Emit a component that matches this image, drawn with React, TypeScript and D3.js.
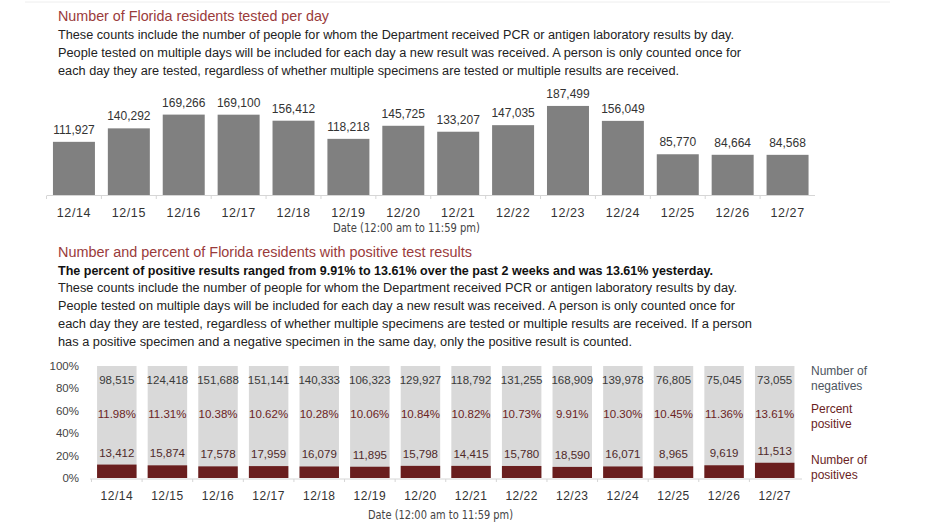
import React from "react";
import * as d3 from "d3";

const dates = ["12/14","12/15","12/16","12/17","12/18","12/19","12/20","12/21","12/22","12/23","12/24","12/25","12/26","12/27"];
const tested = [111927,140292,169266,169100,156412,118218,145725,133207,147035,187499,156049,85770,84664,84568];
const negatives = [98515,124418,151688,151141,140333,106323,129927,118792,131255,168909,139978,76805,75045,73055];
const positives = [13412,15874,17578,17959,16079,11895,15798,14415,15780,18590,16071,8965,9619,11513];
const pctTicks = [0,0.2,0.4,0.6,0.8,1];

const title1 = "Number of Florida residents tested per day";
const para1 = [
  "These counts include the number of people for whom the Department received PCR or antigen laboratory results by day.",
  "People tested on multiple days will be included for each day a new result was received. A person is only counted once for",
  "each day they are tested, regardless of whether multiple specimens are tested or multiple results are received.",
];
const title2 = "Number and percent of Florida residents with positive test results";
const bold2 = "The percent of positive results ranged from 9.91% to 13.61% over the past 2 weeks and was 13.61% yesterday.";
const para2 = [
  "These counts include the number of people for whom the Department received PCR or antigen laboratory results by day.",
  "People tested on multiple days will be included for each day a new result was received. A person is only counted once for",
  "each day they are tested, regardless of whether multiple specimens are tested or multiple results are received. If a person",
  "has a positive specimen and a negative specimen in the same day, only the positive result is counted.",
];
const xTitle = "Date (12:00 am to 11:59 pm)";

const FONT = "'Liberation Sans', Arial, sans-serif";
const NARROW = "'Liberation Sans Narrow', 'DejaVu Sans Condensed', 'Liberation Sans', sans-serif";
const RED_T = "#9a3b3b";
const DARK_RED = "#6a1e1e";

export default function App() {
  const W = 932, H = 524;
  const fmt = d3.format(",");
  const pfmt = d3.format(".2%");

  const x1 = d3.scaleBand<string>().domain(dates).range([46.5, 815]).paddingInner(0.235).paddingOuter(0.1175);
  const y1 = d3.scaleLinear().domain([0, 200000]).range([195, 100]);

  const x2 = d3.scaleBand<string>().domain(dates).range([91.5, 800]).paddingInner(0.22).paddingOuter(0.11);
  const y2 = d3.scaleLinear().domain([0, 1]).range([478, 366]);

  const p1Len = [676, 683, 621];
  const p2Len = [679, 677, 694, 574];

  return (
    <svg width={W} height={H} style={{ position: "absolute", left: 0, top: 0, background: "#fff" }} fontFamily={FONT}>
      <line x1={25} x2={890} y1={2} y2={2} stroke="#eeeeee" />
      <text x={58} y={21} fontSize={14.5} fill={RED_T} textLength={271} lengthAdjust="spacingAndGlyphs">{title1}</text>
      {para1.map((t, i) => (
        <text key={i} x={58} y={38.5 + i * 18} fontSize={12.5} fill="#222" textLength={p1Len[i]} lengthAdjust="spacingAndGlyphs">{t}</text>
      ))}

      {/* Top chart */}
      <line x1={47} x2={815} y1={195.5} y2={195.5} stroke="#d6d6d6" />
      {dates.map((d, i) => (
        <line key={"t" + i} x1={(x1(d) as number) - (x1.step() - x1.bandwidth()) / 2} x2={(x1(d) as number) - (x1.step() - x1.bandwidth()) / 2} y1={195.5} y2={199} stroke="#d6d6d6" />
      ))}
      {dates.map((d, i) => (
        <g key={d}>
          <rect x={x1(d)} y={y1(tested[i])} width={x1.bandwidth()} height={y1(0) - y1(tested[i])} fill="#808080" />
          <text x={(x1(d) as number) + x1.bandwidth() / 2} y={y1(tested[i]) - 8} textAnchor="middle" fontSize={12} fill="#333">{fmt(tested[i])}</text>
          <text x={(x1(d) as number) + x1.bandwidth() / 2} y={216.5} textAnchor="middle" fontSize={12.5} letterSpacing={0.6} fill="#333">{d}</text>
        </g>
      ))}
      <text x={333} y={232} fontSize={12.5} fontFamily={NARROW} fill="#444" textLength={147} lengthAdjust="spacingAndGlyphs">{xTitle}</text>

      {/* Second section text */}
      <text x={58} y={257} fontSize={14} fill={RED_T} textLength={414} lengthAdjust="spacingAndGlyphs">{title2}</text>
      <text x={58} y={274.5} fontSize={12.5} fontWeight="bold" fill="#111" textLength={655} lengthAdjust="spacingAndGlyphs">{bold2}</text>
      {para2.map((t, i) => (
        <text key={i} x={58} y={292 + i * 18} fontSize={12.5} fill="#222" textLength={p2Len[i]} lengthAdjust="spacingAndGlyphs">{t}</text>
      ))}

      {/* Bottom chart */}
      {pctTicks.map((p) => (
        <text key={p} x={79} y={y2(p) + 4} textAnchor="end" fontSize={11.5} fill="#444">{d3.format(".0%")(p)}</text>
      ))}
      <line x1={90} x2={802} y1={479} y2={479} stroke="#d6d6d6" />
      {dates.map((d, i) => (
        <line key={"b" + i} x1={(x2(d) as number) - (x2.step() - x2.bandwidth()) / 2} x2={(x2(d) as number) - (x2.step() - x2.bandwidth()) / 2} y1={479} y2={482} stroke="#d6d6d6" />
      ))}
      {dates.map((d, i) => {
        const tot = negatives[i] + positives[i];
        const p = positives[i] / tot;
        const cx = (x2(d) as number) + x2.bandwidth() / 2;
        return (
          <g key={"bb" + d}>
            <rect x={x2(d)} y={y2(1)} width={x2.bandwidth()} height={y2(0) - y2(1)} fill="#d9d9d9" />
            <rect x={x2(d)} y={y2(p)} width={x2.bandwidth()} height={y2(0) - y2(p)} fill={DARK_RED} />
            <text x={cx} y={383.5} textAnchor="middle" fontSize={11.5} fill="#3a3a3a">{fmt(negatives[i])}</text>
            <text x={cx} y={418} textAnchor="middle" fontSize={11.5} fill="#6b2424">{pfmt(p)}</text>
            <text x={cx} y={y2(p) - 8} textAnchor="middle" fontSize={11.5} fill="#4f2a2a">{fmt(positives[i])}</text>
            <text x={cx} y={499.5} textAnchor="middle" fontSize={12} letterSpacing={0.5} fill="#333">{d}</text>
          </g>
        );
      })}
      <text x={811} y={374.5} fontSize={12} fill="#4d5560">Number of</text>
      <text x={811} y={390} fontSize={12} fill="#4d5560">negatives</text>
      <text x={811} y={412.5} fontSize={12} fill={DARK_RED}>Percent</text>
      <text x={811} y={428} fontSize={12} fill={DARK_RED}>positive</text>
      <text x={811} y={463.5} fontSize={12} fill={DARK_RED}>Number of</text>
      <text x={811} y={479} fontSize={12} fill={DARK_RED}>positives</text>
      <text x={368} y={519} fontSize={12.5} fontFamily={NARROW} fill="#444" textLength={145} lengthAdjust="spacingAndGlyphs">{xTitle}</text>
    </svg>
  );
}
